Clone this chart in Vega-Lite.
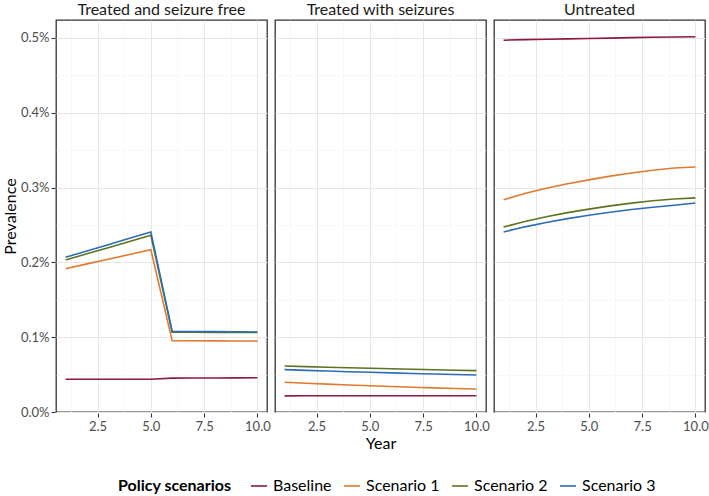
{
  "$schema": "https://vega.github.io/schema/vega-lite/v6.json",
  "padding": {"left": 2, "top": 2, "right": 0, "bottom": 0},
  "background": "white",
  "data": {"values": [
    {"panel": "Treated and seizure free", "scenario": "Baseline", "year": 1, "prev": 0.000437},
    {"panel": "Treated and seizure free", "scenario": "Baseline", "year": 2, "prev": 0.000437},
    {"panel": "Treated and seizure free", "scenario": "Baseline", "year": 3, "prev": 0.000437},
    {"panel": "Treated and seizure free", "scenario": "Baseline", "year": 4, "prev": 0.000437},
    {"panel": "Treated and seizure free", "scenario": "Baseline", "year": 5, "prev": 0.000437},
    {"panel": "Treated and seizure free", "scenario": "Baseline", "year": 6, "prev": 0.000453},
    {"panel": "Treated and seizure free", "scenario": "Baseline", "year": 7, "prev": 0.000454},
    {"panel": "Treated and seizure free", "scenario": "Baseline", "year": 8, "prev": 0.000455},
    {"panel": "Treated and seizure free", "scenario": "Baseline", "year": 9, "prev": 0.000456},
    {"panel": "Treated and seizure free", "scenario": "Baseline", "year": 10, "prev": 0.000458},
    {"panel": "Treated and seizure free", "scenario": "Scenario 1", "year": 1, "prev": 0.001916},
    {"panel": "Treated and seizure free", "scenario": "Scenario 1", "year": 2, "prev": 0.001980},
    {"panel": "Treated and seizure free", "scenario": "Scenario 1", "year": 3, "prev": 0.002043},
    {"panel": "Treated and seizure free", "scenario": "Scenario 1", "year": 4, "prev": 0.002106},
    {"panel": "Treated and seizure free", "scenario": "Scenario 1", "year": 5, "prev": 0.002170},
    {"panel": "Treated and seizure free", "scenario": "Scenario 1", "year": 6, "prev": 0.000954},
    {"panel": "Treated and seizure free", "scenario": "Scenario 1", "year": 7, "prev": 0.000953},
    {"panel": "Treated and seizure free", "scenario": "Scenario 1", "year": 8, "prev": 0.000951},
    {"panel": "Treated and seizure free", "scenario": "Scenario 1", "year": 9, "prev": 0.000950},
    {"panel": "Treated and seizure free", "scenario": "Scenario 1", "year": 10, "prev": 0.000948},
    {"panel": "Treated and seizure free", "scenario": "Scenario 2", "year": 1, "prev": 0.002032},
    {"panel": "Treated and seizure free", "scenario": "Scenario 2", "year": 2, "prev": 0.002115},
    {"panel": "Treated and seizure free", "scenario": "Scenario 2", "year": 3, "prev": 0.002197},
    {"panel": "Treated and seizure free", "scenario": "Scenario 2", "year": 4, "prev": 0.002280},
    {"panel": "Treated and seizure free", "scenario": "Scenario 2", "year": 5, "prev": 0.002362},
    {"panel": "Treated and seizure free", "scenario": "Scenario 2", "year": 6, "prev": 0.001068},
    {"panel": "Treated and seizure free", "scenario": "Scenario 2", "year": 7, "prev": 0.001066},
    {"panel": "Treated and seizure free", "scenario": "Scenario 2", "year": 8, "prev": 0.001065},
    {"panel": "Treated and seizure free", "scenario": "Scenario 2", "year": 9, "prev": 0.001063},
    {"panel": "Treated and seizure free", "scenario": "Scenario 2", "year": 10, "prev": 0.001062},
    {"panel": "Treated and seizure free", "scenario": "Scenario 3", "year": 1, "prev": 0.002068},
    {"panel": "Treated and seizure free", "scenario": "Scenario 3", "year": 2, "prev": 0.002153},
    {"panel": "Treated and seizure free", "scenario": "Scenario 3", "year": 3, "prev": 0.002237},
    {"panel": "Treated and seizure free", "scenario": "Scenario 3", "year": 4, "prev": 0.002322},
    {"panel": "Treated and seizure free", "scenario": "Scenario 3", "year": 5, "prev": 0.002406},
    {"panel": "Treated and seizure free", "scenario": "Scenario 3", "year": 6, "prev": 0.001078},
    {"panel": "Treated and seizure free", "scenario": "Scenario 3", "year": 7, "prev": 0.001076},
    {"panel": "Treated and seizure free", "scenario": "Scenario 3", "year": 8, "prev": 0.001074},
    {"panel": "Treated and seizure free", "scenario": "Scenario 3", "year": 9, "prev": 0.001072},
    {"panel": "Treated and seizure free", "scenario": "Scenario 3", "year": 10, "prev": 0.001070},
    {"panel": "Treated with seizures", "scenario": "Baseline", "year": 1, "prev": 0.000216},
    {"panel": "Treated with seizures", "scenario": "Baseline", "year": 2, "prev": 0.000217},
    {"panel": "Treated with seizures", "scenario": "Baseline", "year": 3, "prev": 0.000217},
    {"panel": "Treated with seizures", "scenario": "Baseline", "year": 4, "prev": 0.000218},
    {"panel": "Treated with seizures", "scenario": "Baseline", "year": 5, "prev": 0.000218},
    {"panel": "Treated with seizures", "scenario": "Baseline", "year": 6, "prev": 0.000218},
    {"panel": "Treated with seizures", "scenario": "Baseline", "year": 7, "prev": 0.000218},
    {"panel": "Treated with seizures", "scenario": "Baseline", "year": 8, "prev": 0.000218},
    {"panel": "Treated with seizures", "scenario": "Baseline", "year": 9, "prev": 0.000218},
    {"panel": "Treated with seizures", "scenario": "Baseline", "year": 10, "prev": 0.000218},
    {"panel": "Treated with seizures", "scenario": "Scenario 1", "year": 1, "prev": 0.000397},
    {"panel": "Treated with seizures", "scenario": "Scenario 1", "year": 2, "prev": 0.000384},
    {"panel": "Treated with seizures", "scenario": "Scenario 1", "year": 3, "prev": 0.000372},
    {"panel": "Treated with seizures", "scenario": "Scenario 1", "year": 4, "prev": 0.000361},
    {"panel": "Treated with seizures", "scenario": "Scenario 1", "year": 5, "prev": 0.000350},
    {"panel": "Treated with seizures", "scenario": "Scenario 1", "year": 6, "prev": 0.000340},
    {"panel": "Treated with seizures", "scenario": "Scenario 1", "year": 7, "prev": 0.000331},
    {"panel": "Treated with seizures", "scenario": "Scenario 1", "year": 8, "prev": 0.000322},
    {"panel": "Treated with seizures", "scenario": "Scenario 1", "year": 9, "prev": 0.000314},
    {"panel": "Treated with seizures", "scenario": "Scenario 1", "year": 10, "prev": 0.000307},
    {"panel": "Treated with seizures", "scenario": "Scenario 2", "year": 1, "prev": 0.000615},
    {"panel": "Treated with seizures", "scenario": "Scenario 2", "year": 2, "prev": 0.000607},
    {"panel": "Treated with seizures", "scenario": "Scenario 2", "year": 3, "prev": 0.000599},
    {"panel": "Treated with seizures", "scenario": "Scenario 2", "year": 4, "prev": 0.000592},
    {"panel": "Treated with seizures", "scenario": "Scenario 2", "year": 5, "prev": 0.000585},
    {"panel": "Treated with seizures", "scenario": "Scenario 2", "year": 6, "prev": 0.000578},
    {"panel": "Treated with seizures", "scenario": "Scenario 2", "year": 7, "prev": 0.000571},
    {"panel": "Treated with seizures", "scenario": "Scenario 2", "year": 8, "prev": 0.000565},
    {"panel": "Treated with seizures", "scenario": "Scenario 2", "year": 9, "prev": 0.000559},
    {"panel": "Treated with seizures", "scenario": "Scenario 2", "year": 10, "prev": 0.000553},
    {"panel": "Treated with seizures", "scenario": "Scenario 3", "year": 1, "prev": 0.000566},
    {"panel": "Treated with seizures", "scenario": "Scenario 3", "year": 2, "prev": 0.000557},
    {"panel": "Treated with seizures", "scenario": "Scenario 3", "year": 3, "prev": 0.000548},
    {"panel": "Treated with seizures", "scenario": "Scenario 3", "year": 4, "prev": 0.000539},
    {"panel": "Treated with seizures", "scenario": "Scenario 3", "year": 5, "prev": 0.000531},
    {"panel": "Treated with seizures", "scenario": "Scenario 3", "year": 6, "prev": 0.000523},
    {"panel": "Treated with seizures", "scenario": "Scenario 3", "year": 7, "prev": 0.000515},
    {"panel": "Treated with seizures", "scenario": "Scenario 3", "year": 8, "prev": 0.000508},
    {"panel": "Treated with seizures", "scenario": "Scenario 3", "year": 9, "prev": 0.000501},
    {"panel": "Treated with seizures", "scenario": "Scenario 3", "year": 10, "prev": 0.000494},
    {"panel": "Untreated", "scenario": "Baseline", "year": 1, "prev": 0.004970},
    {"panel": "Untreated", "scenario": "Baseline", "year": 2, "prev": 0.004978},
    {"panel": "Untreated", "scenario": "Baseline", "year": 3, "prev": 0.004983},
    {"panel": "Untreated", "scenario": "Baseline", "year": 4, "prev": 0.004988},
    {"panel": "Untreated", "scenario": "Baseline", "year": 5, "prev": 0.004993},
    {"panel": "Untreated", "scenario": "Baseline", "year": 6, "prev": 0.004998},
    {"panel": "Untreated", "scenario": "Baseline", "year": 7, "prev": 0.005004},
    {"panel": "Untreated", "scenario": "Baseline", "year": 8, "prev": 0.005010},
    {"panel": "Untreated", "scenario": "Baseline", "year": 9, "prev": 0.005013},
    {"panel": "Untreated", "scenario": "Baseline", "year": 10, "prev": 0.005016},
    {"panel": "Untreated", "scenario": "Scenario 1", "year": 1, "prev": 0.002838},
    {"panel": "Untreated", "scenario": "Scenario 1", "year": 2, "prev": 0.002920},
    {"panel": "Untreated", "scenario": "Scenario 1", "year": 3, "prev": 0.002990},
    {"panel": "Untreated", "scenario": "Scenario 1", "year": 4, "prev": 0.003050},
    {"panel": "Untreated", "scenario": "Scenario 1", "year": 5, "prev": 0.003103},
    {"panel": "Untreated", "scenario": "Scenario 1", "year": 6, "prev": 0.003153},
    {"panel": "Untreated", "scenario": "Scenario 1", "year": 7, "prev": 0.003195},
    {"panel": "Untreated", "scenario": "Scenario 1", "year": 8, "prev": 0.003232},
    {"panel": "Untreated", "scenario": "Scenario 1", "year": 9, "prev": 0.003262},
    {"panel": "Untreated", "scenario": "Scenario 1", "year": 10, "prev": 0.003275},
    {"panel": "Untreated", "scenario": "Scenario 2", "year": 1, "prev": 0.002473},
    {"panel": "Untreated", "scenario": "Scenario 2", "year": 2, "prev": 0.002547},
    {"panel": "Untreated", "scenario": "Scenario 2", "year": 3, "prev": 0.002610},
    {"panel": "Untreated", "scenario": "Scenario 2", "year": 4, "prev": 0.002665},
    {"panel": "Untreated", "scenario": "Scenario 2", "year": 5, "prev": 0.002712},
    {"panel": "Untreated", "scenario": "Scenario 2", "year": 6, "prev": 0.002755},
    {"panel": "Untreated", "scenario": "Scenario 2", "year": 7, "prev": 0.002792},
    {"panel": "Untreated", "scenario": "Scenario 2", "year": 8, "prev": 0.002823},
    {"panel": "Untreated", "scenario": "Scenario 2", "year": 9, "prev": 0.002848},
    {"panel": "Untreated", "scenario": "Scenario 2", "year": 10, "prev": 0.002862},
    {"panel": "Untreated", "scenario": "Scenario 3", "year": 1, "prev": 0.002406},
    {"panel": "Untreated", "scenario": "Scenario 3", "year": 2, "prev": 0.002475},
    {"panel": "Untreated", "scenario": "Scenario 3", "year": 3, "prev": 0.002534},
    {"panel": "Untreated", "scenario": "Scenario 3", "year": 4, "prev": 0.002585},
    {"panel": "Untreated", "scenario": "Scenario 3", "year": 5, "prev": 0.002630},
    {"panel": "Untreated", "scenario": "Scenario 3", "year": 6, "prev": 0.002670},
    {"panel": "Untreated", "scenario": "Scenario 3", "year": 7, "prev": 0.002706},
    {"panel": "Untreated", "scenario": "Scenario 3", "year": 8, "prev": 0.002737},
    {"panel": "Untreated", "scenario": "Scenario 3", "year": 9, "prev": 0.002764},
    {"panel": "Untreated", "scenario": "Scenario 3", "year": 10, "prev": 0.002794}
  ]},
  "facet": {
    "column": {
      "field": "panel",
      "type": "nominal",
      "title": "Year",
      "header": {
        "labelOrient": "top",
        "titleOrient": "bottom",
        "labelFont": "Lato",
        "labelFontSize": 16,
        "labelColor": "#1a1a1a",
        "labelPadding": 1,
        "titleFont": "Lato",
        "titleFontSize": 16,
        "titleFontWeight": "normal",
        "titleColor": "#000000",
        "titlePadding": -7
      }
    }
  },
  "spacing": 6,
  "spec": {
    "width": 211,
    "height": 392,
    "mark": {"type": "line", "strokeWidth": 1.6},
    "encoding": {
      "x": {
        "field": "year",
        "type": "quantitative",
        "scale": {"domain": [0.55, 10.45], "nice": false, "zero": false},
        "axis": {
          "title": null,
          "values": [1.25, 2.5, 3.75, 5, 6.25, 7.5, 8.75, 10],
          "labelExpr": "datum.value % 2.5 === 0 ? format(datum.value, '.1f') : ''",
          "tickOpacity": {"condition": {"test": "datum.value % 2.5 === 0", "value": 1}, "value": 0},
          "gridColor": {"condition": {"test": "datum.value % 2.5 === 0", "value": "#e6e6e6"}, "value": "#f2f2f2"},
          "gridWidth": {"condition": {"test": "datum.value % 2.5 === 0", "value": 1}, "value": 0.6}
        }
      },
      "y": {
        "field": "prev",
        "type": "quantitative",
        "scale": {"domain": [0, 0.00524], "nice": false, "zero": true},
        "axis": {
          "title": "Prevalence",
          "titlePadding": 2,
          "labelPadding": 2,
          "values": [0, 0.0005, 0.001, 0.0015, 0.002, 0.0025, 0.003, 0.0035, 0.004, 0.0045, 0.005],
          "format": ".1%",
          "labelExpr": "round(datum.value * 10000) % 10 === 0 ? format(datum.value, '.1%') : ''",
          "tickOpacity": {"condition": {"test": "round(datum.value * 10000) % 10 === 0", "value": 1}, "value": 0},
          "gridColor": {"condition": {"test": "round(datum.value * 10000) % 10 === 0", "value": "#e6e6e6"}, "value": "#f2f2f2"},
          "gridWidth": {"condition": {"test": "round(datum.value * 10000) % 10 === 0", "value": 1}, "value": 0.6}
        }
      },
      "color": {
        "field": "scenario",
        "type": "nominal",
        "title": "Policy scenarios",
        "scale": {
          "domain": ["Baseline", "Scenario 1", "Scenario 2", "Scenario 3"],
          "range": ["#8b1a3c", "#e07a2e", "#5d7320", "#2c6cb3"]
        },
        "legend": {
          "orient": "none",
          "legendX": 62,
          "legendY": 457,
          "direction": "horizontal",
          "titleOrient": "left",
          "titlePadding": 18,
          "symbolType": "stroke",
          "symbolSize": 260,
          "symbolStrokeWidth": 1.6,
          "labelOffset": 5,
          "columnPadding": 8
        }
      }
    }
  },
  "config": {
    "font": "Lato",
    "view": {"stroke": "#333333", "strokeWidth": 1.3},
    "axis": {
      "domain": false,
      "labelFont": "Lato",
      "labelFontSize": 13,
      "labelColor": "#4d4d4d",
      "tickColor": "#333333",
      "tickSize": 4,
      "tickWidth": 1.1,
      "labelPadding": 3,
      "titleFont": "Lato",
      "titleFontSize": 16,
      "titleFontWeight": "normal",
      "titleColor": "#000000",
      "titlePadding": 4
    },
    "legend": {
      "titleFont": "Lato",
      "titleFontSize": 16,
      "titleFontWeight": "bold",
      "titleColor": "#000000",
      "labelFont": "Lato",
      "labelFontSize": 16,
      "labelColor": "#000000"
    }
  }
}
